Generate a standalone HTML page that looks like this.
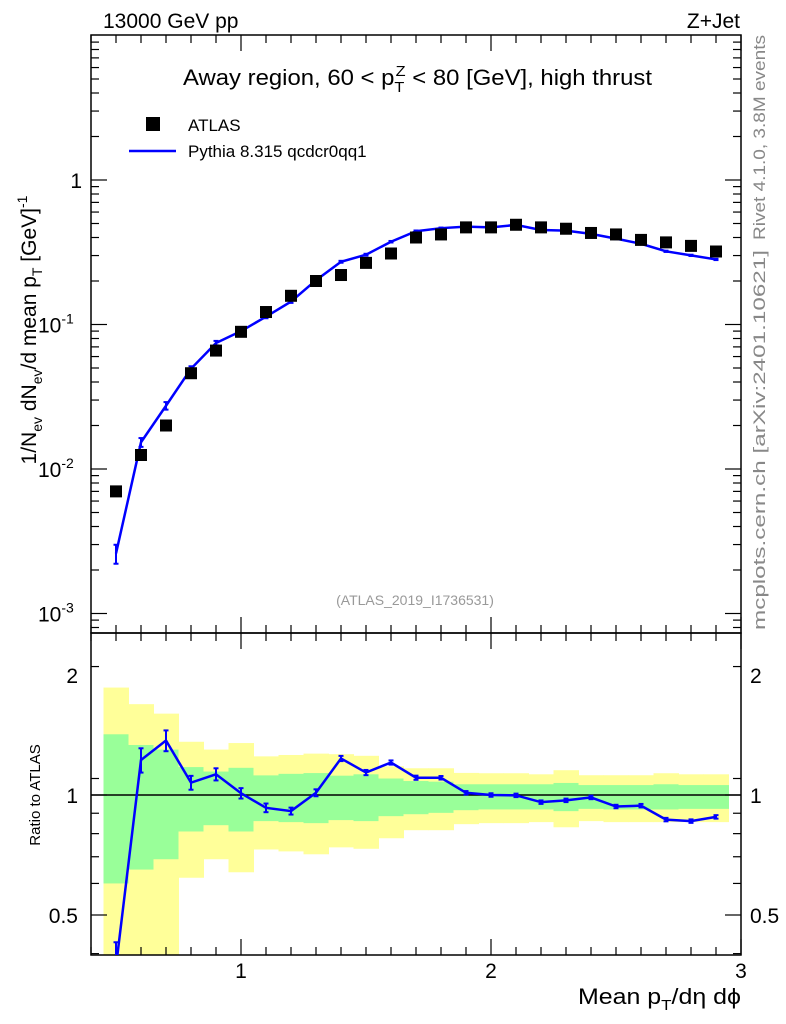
<!DOCTYPE html>
<html><head><meta charset="utf-8"><style>
body{margin:0;background:#fff;}
svg{display:block;font-family:"Liberation Sans",sans-serif;}
</style></head><body>
<svg id="c" width="786" height="1024" viewBox="0 0 786 1024">
<text x="103" y="28" font-size="21">13000 GeV pp</text>
<text x="740" y="28" font-size="21" text-anchor="end">Z+Jet</text>
<text x="183" y="85" font-size="22" textLength="469" lengthAdjust="spacingAndGlyphs">Away region, 60 &lt; p<tspan font-size="15" dy="7">T</tspan><tspan font-size="15" dx="-8" dy="-16">Z</tspan><tspan dy="9"> &lt; 80 [GeV], high thrust</tspan></text>
<rect x="146" y="117" width="14" height="14" fill="#000"/>
<text x="188" y="131" font-size="17">ATLAS</text>
<line x1="129" y1="151" x2="176" y2="151" stroke="#00f" stroke-width="2.5"/>
<text x="188" y="157" font-size="17">Pythia 8.315 qcdcr0qq1</text>
<text x="415" y="605" font-size="14" fill="#999" text-anchor="middle">(ATLAS_2019_I1736531)</text>
<text transform="translate(765,240) rotate(-90)" font-size="17" fill="#888" textLength="205" lengthAdjust="spacingAndGlyphs">Rivet 4.1.0, 3.8M events</text>
<text transform="translate(765,630) rotate(-90)" font-size="17" fill="#888" textLength="380" lengthAdjust="spacingAndGlyphs">mcplots.cern.ch [arXiv:2401.10621]</text>
<text transform="translate(36,330) rotate(-90)" font-size="21" text-anchor="middle">1/N<tspan font-size="14" dy="6">ev</tspan><tspan dy="-6"> dN</tspan><tspan font-size="14" dy="6">ev</tspan><tspan dy="-6">/d mean p</tspan><tspan font-size="14" dy="6">T</tspan><tspan dy="-6"> [GeV]</tspan><tspan font-size="14" dy="-9">-1</tspan></text>
<text transform="translate(40,795) rotate(-90)" font-size="15" text-anchor="middle">Ratio to ATLAS</text>
<text x="578" y="1004" font-size="22" textLength="163" lengthAdjust="spacingAndGlyphs">Mean p<tspan font-size="15" dy="6">T</tspan><tspan dy="-6">/dη dϕ</tspan></text>
<g id="g"></g>
</svg>
<script>
const xs=[0.5,0.6,0.7,0.8,0.9,1.0,1.1,1.2,1.3,1.4,1.5,1.6,1.7,1.8,1.9,2.0,2.1,2.2,2.3,2.4,2.5,2.6,2.7,2.8,2.9];
const atlas=[0.0070,0.0125,0.020,0.046,0.066,0.089,0.122,0.158,0.20,0.22,0.267,0.31,0.40,0.42,0.47,0.47,0.49,0.47,0.46,0.43,0.42,0.385,0.37,0.35,0.32];
const pythia=[0.0026,0.0153,0.0274,0.0494,0.0744,0.0899,0.1133,0.144,0.2026,0.2717,0.304,0.374,0.442,0.464,0.476,0.47,0.489,0.451,0.446,0.424,0.393,0.362,0.321,0.301,0.282];
const pythiaRelErr=[0.15,0.07,0.06,0.04,0.035,0.03,0.025,0.02,0.02,0.015,0.015,0.012,0.012,0.01,0.01,0.01,0.01,0.01,0.01,0.01,0.01,0.01,0.01,0.01,0.01];
const yelHi=[1.86,1.69,1.60,1.36,1.30,1.35,1.25,1.26,1.27,1.266,1.254,1.18,1.167,1.167,1.136,1.134,1.134,1.127,1.154,1.121,1.121,1.121,1.134,1.127,1.127];
const grnHi=[1.42,1.335,1.30,1.175,1.145,1.17,1.12,1.13,1.135,1.118,1.127,1.10,1.084,1.08,1.064,1.064,1.064,1.064,1.072,1.059,1.059,1.059,1.064,1.059,1.059];
const grnLo=[0.6,0.65,0.69,0.81,0.84,0.81,0.86,0.855,0.85,0.865,0.86,0.885,0.895,0.902,0.916,0.92,0.92,0.92,0.911,0.923,0.92,0.92,0.92,0.923,0.923];
const yelLo=[0.3,0.3,0.3,0.62,0.69,0.64,0.73,0.722,0.71,0.739,0.733,0.779,0.816,0.816,0.845,0.85,0.85,0.855,0.83,0.86,0.855,0.855,0.855,0.855,0.855];
const xTicks=[1,2,3];
const mainTickLabels=[["1",0],["10","-1"],["10","-2"],["10","-3"]];
const ratioTicks=[0.5,1,2];

const L=91,R=741,T=35,B=633,RT=633,RB=955;
const X=v=>L+(v-0.4)*250;
const Y=v=>180-Math.log10(v)*144.5;
const RY=v=>795-Math.log2(v)*120;
const NS="http://www.w3.org/2000/svg";
const g=document.getElementById('g');
function mk(t,a,p){const e=document.createElementNS(NS,t);for(const k in a)e.setAttribute(k,a[k]);(p||g).appendChild(e);return e;}
const rc=v=>Math.min(RB,Math.max(RT,RY(v)));
xs.forEach((x,i)=>{
 const x0=X(x-0.05),w=X(x+0.05)-x0+0.5;
 let r=mk('rect',{x:x0,y:rc(yelHi[i]),width:w,height:rc(yelLo[i])-rc(yelHi[i]),fill:'#ffff99'});
 
 
 r=mk('rect',{x:x0,y:rc(grnHi[i]),width:w,height:rc(grnLo[i])-rc(grnHi[i]),fill:'#99ff99'});
 
 
});
let l=mk('line',{x1:L,x2:R,y1:RY(1),y2:RY(1),stroke:'#000','stroke-width':1.5});


[[T,B],[RT,RB]].forEach(([a,b],k)=>{const f=mk('rect',{x:L,y:a,width:R-L,height:b-a,fill:'none',stroke:'#000','stroke-width':1.5});
 
 });
for(let i=4;i<=30;i++){const v=i/10,maj=i%10==0,px=X(v),len=maj?16:8;
 [[T,1],[B,-1],[RT,1],[RB,-1]].forEach(([y,d])=>mk('line',{x1:px,x2:px,y1:y,y2:y+d*len,stroke:'#000','stroke-width':1.2}));}
xTicks.forEach(v=>{const t=mk('text',{x:X(v),y:978,'font-size':21,'text-anchor':'middle'});t.textContent=v;
 
 });
for(let d=-4;d<=0;d++)for(let m=1;m<10;m++){const v=m*Math.pow(10,d),py=Y(v);if(py<T||py>B)continue;const len=m==1?16:8;
 mk('line',{x1:L,x2:L+len,y1:py,y2:py,stroke:'#000','stroke-width':1.2});mk('line',{x1:R,x2:R-len,y1:py,y2:py,stroke:'#000','stroke-width':1.2});}
mainTickLabels.forEach(([b,e],i)=>{const py=Y(Math.pow(10,-i));
 const t=mk('text',{x:e===0?82:38,y:py+8,'font-size':21,'text-anchor':e===0?'end':'start'});
 
 
 t.textContent=b;
 if(e!==0){const s=mk('tspan',{'font-size':14,dy:-9},t);s.textContent=e;}});
for(let v=0.4;v<=2.55;v+=0.1){const py=RY(v);if(py<RT||py>RB)continue;const maj=[0.5,1,2].some(q=>Math.abs(q-v)<1e-6);const len=maj?16:8;
 mk('line',{x1:L,x2:L+len,y1:py,y2:py,stroke:'#000','stroke-width':1.2});mk('line',{x1:R,x2:R-len,y1:py,y2:py,stroke:'#000','stroke-width':1.2});
 if(v>1.05)v+=0.9-1e-9;}
ratioTicks.forEach(v=>{[[78,'end'],[750,'start']].forEach(([x,a])=>{const t=mk('text',{x:x,y:RY(v)+8,'font-size':21,'text-anchor':a});t.textContent=v;
 
 });});
const clipM=mk('clipPath',{id:'cm'});mk('rect',{x:L,y:T,width:R-L,height:B-T},clipM);
const clipR=mk('clipPath',{id:'cr'});mk('rect',{x:L,y:RT,width:R-L,height:RB-RT},clipR);
const gm=mk('g',{'clip-path':'url(#cm)'});const gr=mk('g',{'clip-path':'url(#cr)'});
let p=mk('polyline',{points:xs.map((x,i)=>X(x)+','+Y(pythia[i])).join(' '),fill:'none',stroke:'#00f','stroke-width':2.5},gm);


const ratio=pythia.map((v,i)=>v/atlas[i]);
p=mk('polyline',{points:xs.map((x,i)=>X(x)+','+RY(ratio[i])).join(' '),fill:'none',stroke:'#00f','stroke-width':2.5},gr);


xs.forEach((x,i)=>{
 const px=X(x),e=pythiaRelErr[i];
 [[gm,Y,pythia[i]],[gr,RY,ratio[i]]].forEach(([par,f,v])=>{const y1=f(v*(1+e)),y2=f(v*(1-e));
  mk('line',{x1:px,x2:px,y1:y1,y2:y2,stroke:'#00f','stroke-width':2},par);
  mk('line',{x1:px-2.5,x2:px+2.5,y1:y1,y2:y1,stroke:'#00f','stroke-width':2},par);
  mk('line',{x1:px-2.5,x2:px+2.5,y1:y2,y2:y2,stroke:'#00f','stroke-width':2},par);});
 const r=mk('rect',{x:px-6,y:Y(atlas[i])-6,width:12,height:12,fill:'#000'},gm);
 
 
});
</script>
</body></html>
